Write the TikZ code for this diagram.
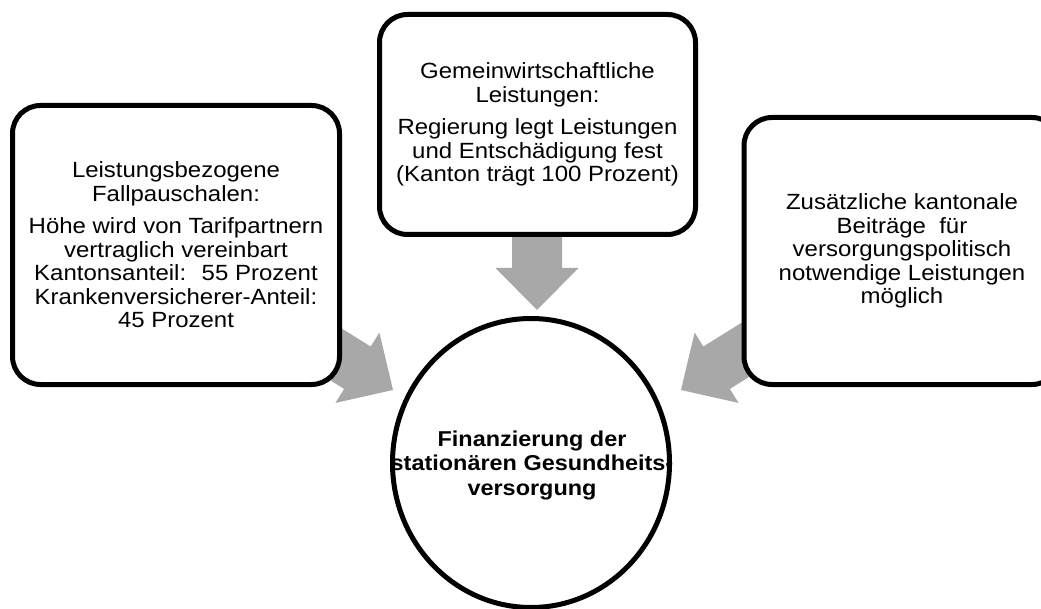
\documentclass[tikz,border=0pt]{standalone}
\usepackage{fontspec}
\setmainfont{Liberation Sans}[FakeStretch=1.09]
\definecolor{arrowgray}{RGB}{168,168,168}
\tikzset{
  box/.style={draw=black, line width=5pt, rounded corners=28pt, fill=white,
    align=center, inner sep=0pt, font=\fontsize{22}{23.5}\selectfont},
  hubtext/.style={inner sep=0pt, align=center, font=\bfseries\fontsize{21.5}{24.5}\selectfont},
  hubring/.style={draw=black, line width=5pt, fill=white},
  blockarrow/.style={fill=arrowgray}
}
\newcommand{\blockarr}[3]{% tip, angle, length
  \begin{scope}[shift={#1}, rotate=#2]
    \fill[blockarrow] (0pt,0pt) -- (-42pt,41.5pt) -- (-42pt,25pt) -- (-#3,25pt)
      -- (-#3,-25pt) -- (-42pt,-25pt) -- (-42pt,-41.5pt) -- cycle;
  \end{scope}}
\begin{document}
\begin{tikzpicture}[x=1pt,y=-1pt]
\useasboundingbox (0,0) rectangle (1041,609);
\fill[white] (0,0) rectangle (1041,609);
% arrows (behind shapes)
\coordinate (ta) at (537,310);
\coordinate (la) at (393,390);
\coordinate (ra) at (681,390);
\blockarr{(ta)}{-90}{95pt}
\blockarr{(la)}{-32}{95pt}
\blockarr{(ra)}{-148}{95pt}
% boxes
\node[box, minimum width=327pt, minimum height=279pt] (L) at (176,245)
  {Leistungsbezogene\\Fallpauschalen:\\[9pt]
   Höhe wird von Tarifpartnern\\vertraglich vereinbart\\
   Kantonsanteil:~ 55 Prozent\\Krankenversicherer-Anteil:\\45 Prozent};
\node[box, minimum width=316pt, minimum height=220pt] (T) at (537.5,124.5)
  {Gemeinwirtschaftliche\\Leistungen:\\[9pt]
   Regierung legt Leistungen\\und Entschädigung fest\\(Kanton trägt 100 Prozent)};
\node[box, minimum width=316pt, minimum height=267pt] (R) at (902,251)
  {Zusätzliche kantonale\\Beiträge~ für\\versorgungspolitisch\\notwendige Leistungen\\möglich};
% hub
\coordinate (Cc) at (531,463);
\path[hubring] (Cc) ellipse [x radius=138.5pt, y radius=144.5pt];
\node[hubtext] (C) at (532,465)
  {Finanzierung der\\stationären Gesundheits-\\versorgung};
\end{tikzpicture}
\end{document}
